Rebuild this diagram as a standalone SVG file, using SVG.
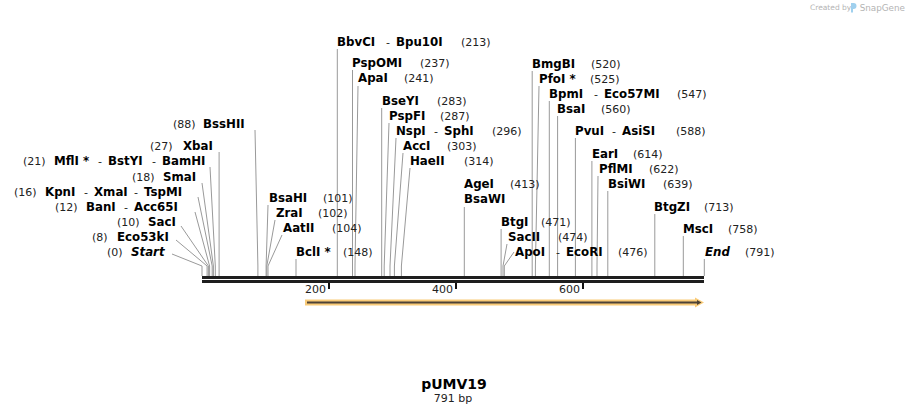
<svg xmlns="http://www.w3.org/2000/svg" width="908" height="415" viewBox="0 0 908 415">
<style>
text{font-family:"DejaVu Sans","Verdana",sans-serif;font-size:11px;fill:#111}
.n{font-weight:bold;fill:#000;font-size:11.8px}
.i{font-style:italic}
.p{fill:#222}
.d{font-weight:normal;fill:#222;font-size:11px}
.ln{fill:none;stroke:#999;stroke-width:1}
.bb{fill:#1e1e1e}
.tk{stroke:#111;stroke-width:2}
.logo{font-size:7.5px;fill:#b4b4b4}
</style>
<rect width="908" height="415" fill="#fff"/>
<g id="logo">
<text class="logo" x="810" y="10">Created by</text>
<path d="M851 3 h2.5 q3 0 3 3 q0 3 -3 3 h-0.5 v3.5 h-2 z" fill="#9fd0ee"/>
<text class="logo" x="905" y="11" text-anchor="end" style="font-size:8.8px">SnapGene</text>
</g>
<g id="connectors">
<polyline class="ln" points="172,254 202,266 202,276"/>
<polyline class="ln" points="176,240 207.1,266 207.1,276"/>
<polyline class="ln" points="181,226 208.4,266 208.4,276"/>
<polyline class="ln" points="195,212 209.6,266 209.6,276"/>
<polyline class="ln" points="198,197 212.2,266 212.2,276"/>
<polyline class="ln" points="202,183 213.4,266 213.4,276"/>
<polyline class="ln" points="210,167 215.3,266 215.3,276"/>
<polyline class="ln" points="219.1,152 219.1,276"/>
<polyline class="ln" points="255,130 257.9,266 257.9,276"/>
<polyline class="ln" points="268,205 266.1,266 266.1,276"/>
<polyline class="ln" points="275,220 266.8,266 266.8,276"/>
<polyline class="ln" points="282,235 268,266 268,276"/>
<polyline class="ln" points="296,259 296,276"/>
<polyline class="ln" points="337.3,49 337.3,276"/>
<polyline class="ln" points="352.5,70 352.5,276"/>
<polyline class="ln" points="358,86 355,266 355,276"/>
<polyline class="ln" points="381.7,108 381.7,276"/>
<polyline class="ln" points="389,123 384.2,266 384.2,276"/>
<polyline class="ln" points="396,138 390,266 390,276"/>
<polyline class="ln" points="403,153 394.4,266 394.4,276"/>
<polyline class="ln" points="410,168 401.4,266 401.4,276"/>
<polyline class="ln" points="464.3,207 464.3,276"/>
<polyline class="ln" points="501.1,229 501.1,276"/>
<polyline class="ln" points="507,244 503,266 503,276"/>
<polyline class="ln" points="514,252 504.3,266 504.3,276"/>
<polyline class="ln" points="532.2,71 532.2,276"/>
<polyline class="ln" points="539,86 535.4,266 535.4,276"/>
<polyline class="ln" points="549.3,101 549.3,276"/>
<polyline class="ln" points="557.6,116 557.6,276"/>
<polyline class="ln" points="575.4,138 575.4,276"/>
<polyline class="ln" points="591.9,161 591.9,276"/>
<polyline class="ln" points="598,176 597,266 597,276"/>
<polyline class="ln" points="607.8,191 607.8,276"/>
<polyline class="ln" points="654.8,214 654.8,276"/>
<polyline class="ln" points="683.3,236 683.3,276"/>
<polyline class="ln" points="704.3,259 704.3,276"/>
</g>
<g id="backbone">
<rect class="bb" x="202" y="276" width="502" height="3"/>
<rect class="bb" x="202" y="280" width="502" height="3"/>
<line class="tk" x1="329" y1="283" x2="329" y2="289"/>
<line class="tk" x1="456" y1="283" x2="456" y2="289"/>
<line class="tk" x1="583" y1="283" x2="583" y2="289"/>
<text class="p" x="326" y="293" text-anchor="end">200</text>
<text class="p" x="453" y="293" text-anchor="end">400</text>
<text class="p" x="580" y="293" text-anchor="end">600</text>
</g>
<g id="feature">
<polygon points="305,299.5 695,299.5 695,297.5 704,302.5 695,307.5 695,305.5 305,305.5" fill="#f9cb78"/>
<polygon points="307,301.6 697,301.6 697,300 701.5,302.5 697,305 697,303.4 307,303.4" fill="#4d4236"/>
</g>
<g id="n-start"><text x="107" y="256" class="p">(0)</text><text x="131" y="256" class="n i">Start</text></g>
<g id="n-eco53ki"><text x="92" y="241" class="p">(8)</text><text x="117" y="241" class="n">Eco53kI</text></g>
<g id="n-saci"><text x="117" y="226" class="p">(10)</text><text x="148" y="226" class="n">SacI</text></g>
<g id="n-bani"><text x="55" y="211" class="p">(12)</text><text x="86" y="211" class="n">BanI<tspan class="d" x="124">-</tspan><tspan x="134">Acc65I</tspan></text></g>
<g id="n-kpni"><text x="14" y="196" class="p">(16)</text><text x="45" y="196" class="n">KpnI<tspan class="d" x="84">-</tspan><tspan x="94">XmaI</tspan><tspan class="d" x="134">-</tspan><tspan x="144">TspMI</tspan></text></g>
<g id="n-smai"><text x="132" y="181" class="p">(18)</text><text x="163" y="181" class="n">SmaI</text></g>
<g id="n-mfli"><text x="23" y="165" class="p">(21)</text><text x="54" y="165" class="n">MflI *<tspan class="d" x="98">-</tspan><tspan x="108">BstYI</tspan><tspan class="d" x="152">-</tspan><tspan x="162">BamHI</tspan></text></g>
<g id="n-xbai"><text x="150" y="150" class="p">(27)</text><text x="183" y="150" class="n">XbaI</text></g>
<g id="n-bsshii"><text x="173" y="128" class="p">(88)</text><text x="203" y="128" class="n">BssHII</text></g>
<g id="n-bsahi"><text x="269" y="202" class="n">BsaHI</text><text x="323" y="202" class="p">(101)</text></g>
<g id="n-zrai"><text x="276" y="217" class="n">ZraI</text><text x="318" y="217" class="p">(102)</text></g>
<g id="n-aatii"><text x="283" y="232" class="n">AatII</text><text x="332" y="232" class="p">(104)</text></g>
<g id="n-bcli"><text x="296" y="256" class="n">BclI *</text><text x="343" y="256" class="p">(148)</text></g>
<g id="n-bbvci"><text x="337" y="46" class="n">BbvCI<tspan class="d" x="386">-</tspan><tspan x="396">Bpu10I</tspan></text><text x="461" y="46" class="p">(213)</text></g>
<g id="n-pspomi"><text x="352" y="67" class="n">PspOMI</text><text x="420" y="67" class="p">(237)</text></g>
<g id="n-apai"><text x="358" y="82" class="n">ApaI</text><text x="404" y="82" class="p">(241)</text></g>
<g id="n-bseyi"><text x="382" y="105" class="n">BseYI</text><text x="437" y="105" class="p">(283)</text></g>
<g id="n-pspfi"><text x="389" y="120" class="n">PspFI</text><text x="440" y="120" class="p">(287)</text></g>
<g id="n-nspi"><text x="396" y="135" class="n">NspI<tspan class="d" x="434">-</tspan><tspan x="444">SphI</tspan></text><text x="492" y="135" class="p">(296)</text></g>
<g id="n-acci"><text x="403" y="150" class="n">AccI</text><text x="447" y="150" class="p">(303)</text></g>
<g id="n-haeii"><text x="410" y="165" class="n">HaeII</text><text x="464" y="165" class="p">(314)</text></g>
<g id="n-agei"><text x="464" y="188" class="n">AgeI</text><text x="510" y="188" class="p">(413)</text></g>
<g id="n-bsawi"><text x="464" y="203" class="n">BsaWI</text></g>
<g id="n-btgi"><text x="501" y="226" class="n">BtgI</text><text x="541" y="226" class="p">(471)</text></g>
<g id="n-sacii"><text x="508" y="241" class="n">SacII</text><text x="558" y="241" class="p">(474)</text></g>
<g id="n-apoi"><text x="515" y="256" class="n">ApoI<tspan class="d" x="556">-</tspan><tspan x="566">EcoRI</tspan></text><text x="618" y="256" class="p">(476)</text></g>
<g id="n-bmgbi"><text x="532" y="68" class="n">BmgBI</text><text x="591" y="68" class="p">(520)</text></g>
<g id="n-pfoi"><text x="539" y="83" class="n">PfoI *</text><text x="590" y="83" class="p">(525)</text></g>
<g id="n-bpmi"><text x="549" y="98" class="n">BpmI<tspan class="d" x="594">-</tspan><tspan x="604">Eco57MI</tspan></text><text x="677" y="98" class="p">(547)</text></g>
<g id="n-bsai"><text x="557" y="113" class="n">BsaI</text><text x="601" y="113" class="p">(560)</text></g>
<g id="n-pvui"><text x="575" y="135" class="n">PvuI<tspan class="d" x="612">-</tspan><tspan x="622">AsiSI</tspan></text><text x="676" y="135" class="p">(588)</text></g>
<g id="n-eari"><text x="592" y="158" class="n">EarI</text><text x="633" y="158" class="p">(614)</text></g>
<g id="n-pflmi"><text x="599" y="173" class="n">PflMI</text><text x="649" y="173" class="p">(622)</text></g>
<g id="n-bsiwi"><text x="608" y="188" class="n">BsiWI</text><text x="663" y="188" class="p">(639)</text></g>
<g id="n-btgzi"><text x="654" y="211" class="n">BtgZI</text><text x="704" y="211" class="p">(713)</text></g>
<g id="n-msci"><text x="683" y="233" class="n">MscI</text><text x="728" y="233" class="p">(758)</text></g>
<g id="n-end"><text x="705" y="256" class="n i">End</text><text x="745" y="256" class="p">(791)</text></g>
<g id="title">
<text x="454" y="389" text-anchor="middle" class="n" style="font-size:14px">pUMV19</text>
<text x="453" y="402" text-anchor="middle" class="p">791 bp</text>
</g>
</svg>
